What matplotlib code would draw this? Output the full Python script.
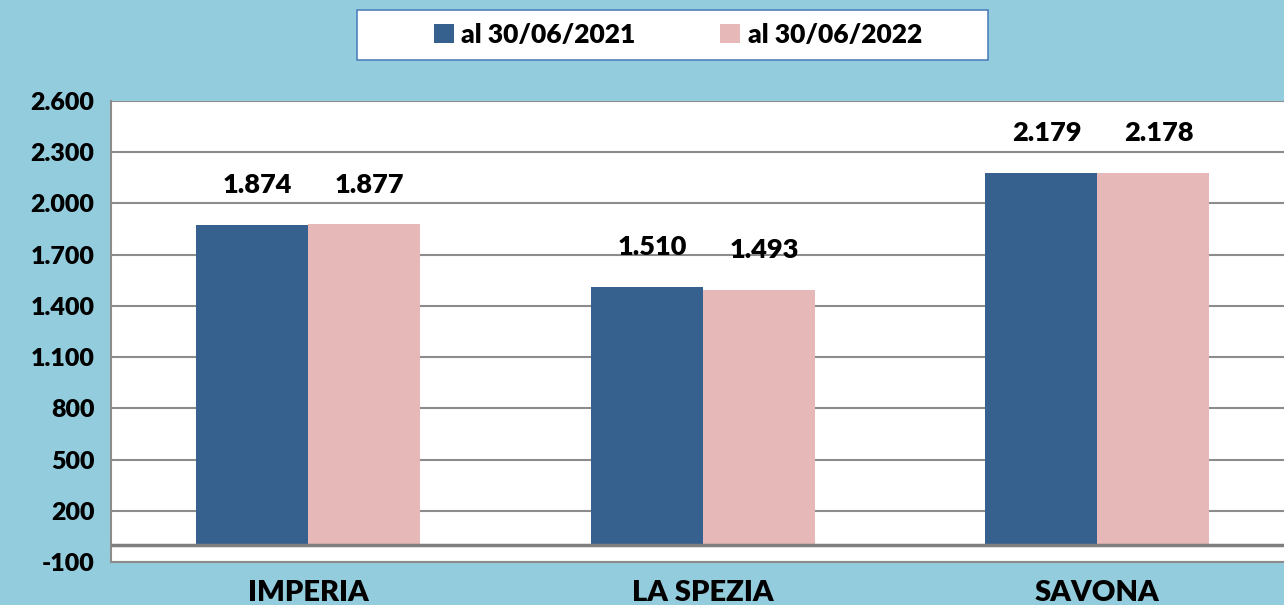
import numpy as np
import matplotlib.pyplot as plt
from matplotlib.patches import Rectangle

plt.rcParams['font.family'] = ['Lato', 'DejaVu Sans']
plt.rcParams['font.weight'] = 'heavy'

categories = ['IMPERIA', 'LA SPEZIA', 'SAVONA']
series_names = ['al 30/06/2021', 'al 30/06/2022']
values_2021 = [1874, 1510, 2179]
values_2022 = [1877, 1493, 2178]
yticks = list(range(-100, 2601, 300))

bg = '#93CDDD'
blue = '#36618F'
pink = '#E6B8B7'


def it_fmt(v):
    return '{:,}'.format(v).replace(',', '.')


fig = plt.figure(figsize=(12.84, 6.05), dpi=100)
fig.patch.set_facecolor(bg)
ax = fig.add_axes([111 / 1284, 1 - 562 / 605, 1183.5 / 1284, 461 / 605])
ax.set_facecolor('white')

x = np.arange(len(categories))
w = 0.284
b1 = ax.bar(x - w / 2, values_2021, w, color=blue, label=series_names[0], zorder=3)
b2 = ax.bar(x + w / 2, values_2022, w, color=pink, label=series_names[1], zorder=3)

for bars, vals in ((b1, values_2021), (b2, values_2022)):
    for r, v in zip(bars, vals):
        ax.annotate(it_fmt(v), (r.get_x() + r.get_width() / 2, v),
                    xytext=(4, 20), textcoords='offset points',
                    ha='center', va='bottom', fontsize=19.5, fontweight='heavy',
                    zorder=5)

ax.set_xlim(-0.5, 2.5)
ax.set_ylim(-100, 2600)
ax.set_yticks(yticks)
ax.set_yticklabels([it_fmt(t) for t in yticks], fontsize=18, fontweight='heavy')
ax.set_xticks(x)
ax.set_xticklabels(categories, fontsize=21, fontweight='heavy')
ax.tick_params(axis='both', length=0)
ax.tick_params(axis='y', pad=12)
ax.tick_params(axis='x', pad=13)
ax.yaxis.grid(True, color='#8C8C8C', linewidth=1.5, zorder=0)
ax.axhline(0, color='#7F7F7F', linewidth=2.5, zorder=4)
for s in ['top', 'right']:
    ax.spines[s].set_visible(False)
for s in ['left', 'bottom']:
    ax.spines[s].set_color('#8C8C8C')
    ax.spines[s].set_linewidth(1.5)

# legend box
box = Rectangle((357 / 1284, 1 - 60 / 605), 631 / 1284, 50 / 605,
                transform=fig.transFigure, facecolor='white',
                edgecolor='#4F81BD', linewidth=1.2, zorder=1)
fig.patches.append(box)
leg = fig.legend(loc='center', bbox_to_anchor=(678 / 1284, 1 - 35 / 605), ncol=2,
                 frameon=False, handlelength=0.75, handleheight=0.75,
                 handletextpad=0.3, columnspacing=3.2,
                 prop={'weight': 'heavy', 'size': 19})

fig.savefig('out.png', dpi=100, facecolor=bg)
